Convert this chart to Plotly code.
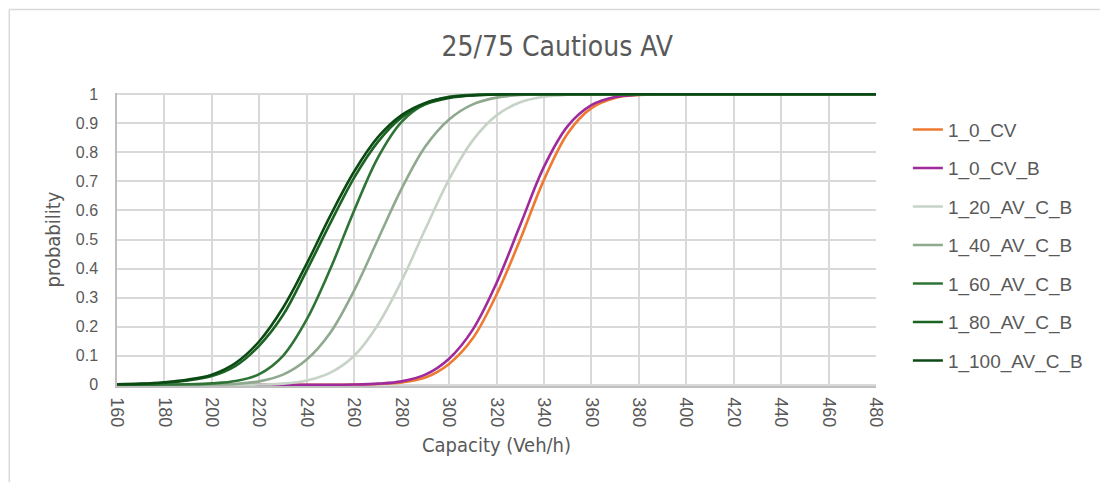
import plotly.graph_objects as go

# Capacity axis (Veh/h)
capacity = [160, 170, 180, 190, 200, 210, 220, 230, 240, 250, 260, 270, 280, 290,
            300, 310, 320, 330, 340, 350, 360, 370, 380, 390, 400, 410, 420, 430,
            440, 450, 460, 470, 480]

# Cumulative probability curves per scenario
p_1_0_cv = [0, 0, 0, 0, 0, 0, 0, 0, 0, 0, 0.001, 0.003, 0.008, 0.025,
            0.072, 0.16, 0.31, 0.50, 0.705, 0.865, 0.952, 0.987, 0.997, 0.999, 1,
            1, 1, 1, 1, 1, 1, 1, 1]
p_1_0_cv_b = [0, 0, 0, 0, 0, 0, 0, 0, 0, 0, 0.001, 0.004, 0.012, 0.035,
              0.09, 0.19, 0.35, 0.55, 0.75, 0.89, 0.962, 0.99, 0.998, 1, 1,
              1, 1, 1, 1, 1, 1, 1, 1]
p_1_20 = [0, 0, 0, 0, 0, 0, 0.001, 0.004, 0.015, 0.042, 0.10, 0.207, 0.358, 0.536,
          0.707, 0.841, 0.927, 0.972, 0.991, 0.998, 1, 1, 1, 1, 1,
          1, 1, 1, 1, 1, 1, 1, 1]
p_1_40 = [0, 0, 0, 0, 0.001, 0.003, 0.012, 0.035, 0.087, 0.18, 0.325, 0.50, 0.675, 0.82,
          0.913, 0.965, 0.988, 0.997, 0.999, 1, 1, 1, 1, 1, 1,
          1, 1, 1, 1, 1, 1, 1, 1]
p_1_60 = [0, 0, 0.001, 0.002, 0.005, 0.013, 0.037, 0.10, 0.225, 0.40, 0.60, 0.782, 0.905, 0.967,
          0.991, 0.998, 1, 1, 1, 1, 1, 1, 1, 1, 1,
          1, 1, 1, 1, 1, 1, 1, 1]
p_1_80 = [0.002, 0.003, 0.007, 0.015, 0.03, 0.065, 0.135, 0.24, 0.394, 0.557, 0.713, 0.836, 0.92, 0.965,
          0.987, 0.996, 0.999, 1, 1, 1, 1, 1, 1, 1, 1,
          1, 1, 1, 1, 1, 1, 1, 1]
p_1_100 = [0.002, 0.004, 0.009, 0.018, 0.035, 0.075, 0.15, 0.265, 0.417, 0.583, 0.734, 0.852, 0.928, 0.97,
           0.989, 0.996, 0.999, 1, 1, 1, 1, 1, 1, 1, 1,
           1, 1, 1, 1, 1, 1, 1, 1]

series_names = ["1_0_CV", "1_0_CV_B", "1_20_AV_C_B", "1_40_AV_C_B",
                "1_60_AV_C_B", "1_80_AV_C_B", "1_100_AV_C_B"]
series_values = [p_1_0_cv, p_1_0_cv_b, p_1_20, p_1_40, p_1_60, p_1_80, p_1_100]
series_colors = ["#ee7a32", "#9e2a9c", "#c6d3c6", "#8ea98e",
                 "#2f7436", "#1b6323", "#0c4a14"]

x_ticks = list(range(160, 481, 20))
y_ticks = [round(i * 0.1, 1) for i in range(11)]
y_tick_text = ["0", "0.1", "0.2", "0.3", "0.4", "0.5", "0.6", "0.7", "0.8", "0.9", "1"]

fig = go.Figure()
for name, vals, color in zip(series_names, series_values, series_colors):
    fig.add_trace(go.Scatter(
        x=capacity, y=vals, name=name, mode="lines", legendgroup=name,
        line=dict(color=color, width=2.6, shape="spline", smoothing=1.0),
    ))

text_grey = "#595959"
grid_grey = "#d9d9d9"
narrow = "DejaVu Sans Condensed, Roboto, sans-serif"

fig.update_layout(
    width=1100, height=482,
    paper_bgcolor="white", plot_bgcolor="white",
    margin=dict(l=117, r=222, t=93, b=96),
    title=dict(text="25/75 Cautious AV", x=0.58, xref="paper", xanchor="center",
               y=0.905, yref="container", yanchor="middle",
               font=dict(family=narrow, size=28, color=text_grey)),
    font=dict(family="Liberation Sans, Arial, sans-serif", color=text_grey),
    showlegend=True,
    legend=dict(x=1.042, xanchor="left", y=0.94, yanchor="top",
                font=dict(size=19, color=text_grey), tracegroupgap=10.8,
                bgcolor="rgba(0,0,0,0)", itemwidth=30),
    xaxis=dict(range=[160, 480], tickvals=x_ticks, tickangle=90,
               tickfont=dict(size=18, color=text_grey),
               showgrid=True, gridcolor=grid_grey, gridwidth=1.5,
               showline=True, linecolor="#bfbfbf", linewidth=1.5,
               zeroline=False, ticks="", ticklabelstandoff=6,
               title=dict(text="Capacity (Veh/h)", standoff=12,
                          font=dict(family=narrow, size=20, color=text_grey))),
    yaxis=dict(range=[-0.004, 1.004], tickvals=y_ticks, ticktext=y_tick_text,
               tickfont=dict(size=16, color=text_grey),
               showgrid=True, gridcolor=grid_grey, gridwidth=1.5,
               showline=True, linecolor="#bfbfbf", linewidth=1.5,
               zeroline=False, ticks="", ticklabelstandoff=14,
               title=dict(text="probability", standoff=10,
                          font=dict(family=narrow, size=20, color=text_grey))),
)

# Chart-area frame (left and top edges)
frame_color = "#d9d9d9"
frame_x = (9 - 117) / 761
frame_y = (386 - 9) / 293.3
fig.add_shape(type="line", xref="paper", yref="paper",
              x0=frame_x, x1=frame_x, y0=frame_y, y1=-0.5,
              line=dict(color=frame_color, width=1.5))
fig.add_shape(type="line", xref="paper", yref="paper",
              x0=frame_x, x1=1.4, y0=frame_y, y1=frame_y,
              line=dict(color=frame_color, width=1.5))

fig.write_html("out.html")
